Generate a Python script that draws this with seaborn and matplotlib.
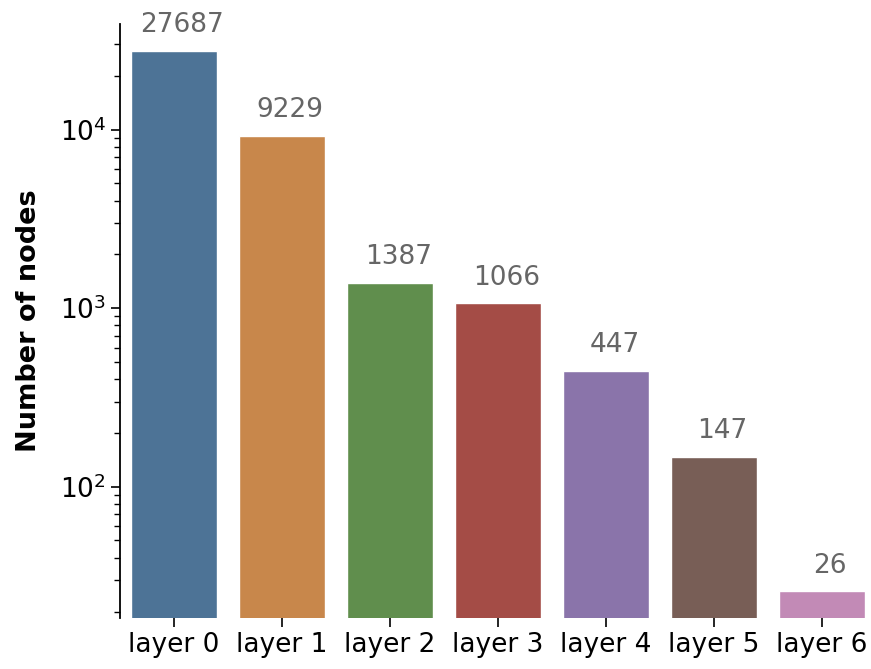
import pandas as pd
import matplotlib
matplotlib.use("Agg")
import matplotlib.pyplot as plt
import seaborn as sns

# estilo: ticks, sem grade
sns.set_theme(style="ticks")
plt.rcParams['font.family'] = ['DejaVu Sans']

# dados
camadas = ['layer 0', 'layer 1', 'layer 2', 'layer 3', 'layer 4', 'layer 5', 'layer 6']
n_nos = [27687, 9229, 1387, 1066, 447, 147, 26]

df = pd.DataFrame({'camada': camadas, 'nos': n_nos})
# cores (tab10 esmaecido)
cores = ['#4d7396', '#c8874b', '#608e4d', '#a44c46', '#8a74aa', '#785e56', '#c28ab6']

fig = plt.figure(figsize=(8.71, 6.69), dpi=100)
ax = fig.add_axes([120 / 871, 51 / 669, 756 / 871, 594 / 669])

sns.barplot(data=df, x='camada', y='nos', hue='camada', palette=cores,
            saturation=1, legend=False, ax=ax, width=0.8)
ax.set_yscale('log')
ax.set_ylim(18.4, 39000)
ax.set_xlim(-0.5, 6.5)

# rótulos acima das barras, levemente deslocados para a direita
for p in ax.patches:
    h = p.get_height()
    ax.annotate(str(int(h)), xy=(p.get_x() + p.get_width() / 2, h),
                xytext=(6, 9), textcoords='offset points',
                ha='center', va='bottom', fontsize=19, color='#666666')

ax.set_xlabel('')
ax.set_ylabel('Number of nodes', fontsize=19.5, fontweight='bold', color='black',
              labelpad=13)
ax.tick_params(axis='both', labelsize=19, colors='black')
ax.tick_params(axis='both', which='major', length=6.5, width=1.2)
ax.tick_params(axis='y', which='minor', length=4.5, width=1.0, colors='black')
ax.spines['left'].set_color('black')
ax.spines['left'].set_linewidth(1.3)
sns.despine(ax=ax, bottom=True)

fig.savefig('out.png', dpi=100)
